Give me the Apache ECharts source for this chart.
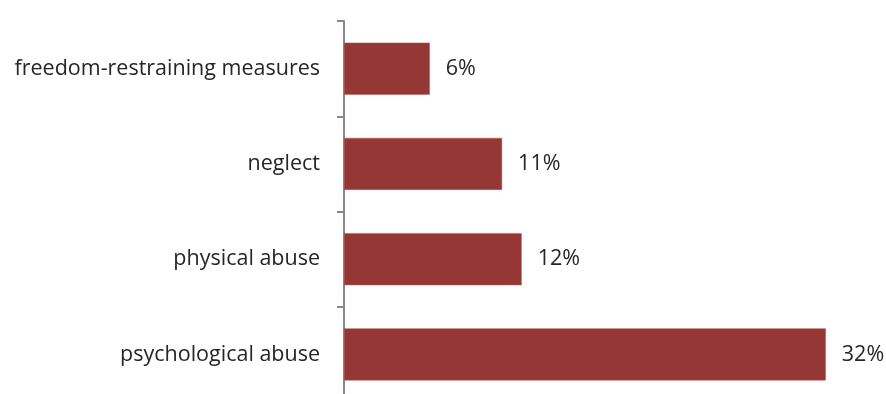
<!DOCTYPE html>
<html>
<head>
<meta charset="utf-8">
<script src="https://cdn.jsdelivr.net/npm/echarts@6/dist/echarts.min.js"></script>
<style>html,body{margin:0;padding:0;background:#fff;}#c{width:886px;height:394px;}</style>
</head>
<body>
<div id="c"></div>
<script>
const categories = ["psychological abuse", "physical abuse", "neglect", "freedom-restraining measures"];
const values = [32.0, 11.8, 10.5, 5.7];

const chart = echarts.init(document.getElementById('c'), null, {renderer: 'canvas'});
chart.setOption({
  animation: false,
  grid: {left: 344, top: 21, height: 381, width: 527, outerBoundsMode: 'none', containLabel: false},
  xAxis: {
    type: 'value', min: 0, max: 35, show: false
  },
  yAxis: {
    type: 'category', data: categories,
    axisLine: {show: true, lineStyle: {color: '#898989', width: 2}},
    axisTick: {show: true, length: 7, lineStyle: {color: '#898989', width: 2}},
    axisLabel: {margin: 24, color: '#262626', fontFamily: 'Open Sans', fontSize: 21.5, fontWeight: 400},
    splitLine: {show: false}
  },
  series: [{
    type: 'bar', data: values, barWidth: 52,
    itemStyle: {color: '#953735', borderColor: '#b05a58', borderWidth: 0.5},
    label: {
      show: true, position: 'right', distance: 16,
      color: '#262626', fontFamily: 'Open Sans', fontSize: 21.5, fontWeight: 400,
      formatter: p => Math.round(p.value) + '%'
    }
  }]
});
</script>
</body>
</html>
